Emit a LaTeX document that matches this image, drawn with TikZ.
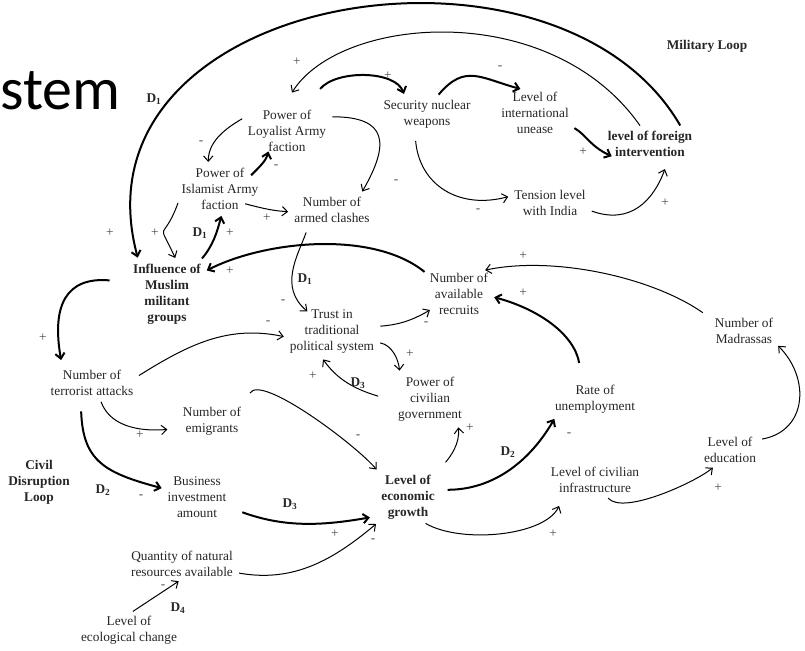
\documentclass[tikz,border=0pt]{standalone}
\usepackage{fontspec}
\setmainfont{Liberation Serif}
\newfontfamily\slidefont{Carlito}
\usetikzlibrary{arrows.meta}
\newcommand{\dsub}[1]{\textbf{D\textsubscript{#1}}}
\tikzset{
  var/.style={align=center,inner sep=1.5pt,font=\fontsize{10}{12}\selectfont,text=black!85},
  varb/.style={var,font=\fontsize{10}{12}\selectfont\bfseries},
  sgn/.style={inner sep=0pt,font=\fontsize{10}{12}\selectfont,text=black!70},
  dlab/.style={inner sep=0pt,font=\fontsize{10}{12}\selectfont,text=black!85},
  lnk/.style={-{Straight Barb[length=4pt,width=7pt]},line width=.75pt,shorten <=3pt,shorten >=3pt},
  hvy/.style={lnk,line width=1.5pt},
}
\begin{document}
\begin{tikzpicture}[x=0.75pt,y=0.75pt]
\useasboundingbox (0,0) rectangle (805,650);
\node[anchor=base west,inner sep=0pt,font=\slidefont\fontsize{45}{54}\selectfont] (ttl) at (0,540) {stem};
% variables
\node[var] (loyal) at (287,519) {Power of\\Loyalist Army\\faction};
\node[var] (islam) at (220,461) {Power of\\Islamist Army\\faction};
\node[var] (clash) at (332,440) {Number of\\armed clashes};
\node[var] (secur) at (427,536) {Security nuclear\\weapons};
\node[var] (unease) at (535,537) {Level of\\international\\unease};
\node[varb] (foreign) at (650,506) {level of foreign\\intervention};
\node[var] (india) at (550,447) {Tension level\\with India};
\node[varb] (influ) at (167,356) {Influence of\\Muslim\\militant\\groups};
\node[var] (terror) at (92,267) {Number of\\terrorist attacks};
\node[var] (trust) at (332,318) {Trust in\\traditional\\political system};
\node[var] (recruit) at (459,356) {Number of\\available\\recruits};
\node[var] (madras) at (744,319) {Number of\\Madrassas};
\node[var] (civgov) at (430,251) {Power of\\civilian\\government};
\node[var] (unemp) at (595,251) {Rate of\\unemployment};
\node[var] (emig) at (212,229) {Number of\\emigrants};
\node[var] (busin) at (197,153) {Business\\investment\\amount};
\node[varb] (econ) at (408,153) {Level of\\economic\\growth};
\node[var] (infra) at (595,170) {Level of civilian\\infrastructure};
\node[var] (educ) at (730,200) {Level of\\education};
\node[var] (natres) at (182,86) {Quantity of natural\\resources available};
\node[var] (ecol) at (129,20) {Level of\\ecological change};
\node[varb] (milit) at (707,604) {Military Loop};
\node[varb] (civil) at (39,168) {Civil\\Disruption\\Loop};
% military loop
\draw[hvy] (foreign.25) .. controls +(120:250) and +(105:280) .. (influ.131);
\draw[lnk] (foreign.117) .. controls +(125:160) and +(58:95) .. ([yshift=9pt]loyal.83);
\draw[hvy] ([yshift=12pt]loyal.37) to[out=50,in=110,looseness=.85] (secur.143);
\draw[hvy] (secur.61) to[out=50,in=165,looseness=1.3] (unease.115);
\draw[hvy,shorten >=-5pt] (unease.-20) to[out=-30,in=155] (foreign.192);
\draw[lnk,shorten <=8pt] (secur.233) to[out=-85,in=195,looseness=1.2] (india.169);
\draw[lnk,shorten >=8pt] (india.-10) to[out=-20,in=250,looseness=1.2] (foreign.-39);
\draw[lnk] (loyal.161) to[out=210,in=90] (islam.117);
\draw[hvy,shorten <=-10pt,shorten >=-2pt] (islam.north east) to[bend right=15] (loyal.230);
\draw[lnk] (loyal.19) to[out=0,in=60,looseness=1.8] (clash.28);
\draw[lnk,shorten <=-12pt] (islam.-25) to[out=-15,in=175] (clash.183);
\draw[lnk] (islam.194) to[out=250,in=115,looseness=2] (influ.73);
\draw[hvy] (influ.45) to[out=50,in=255] (islam.276);
\draw[hvy] (recruit.148) to[out=141,in=27,looseness=.8] (influ.31);
\draw[lnk,shorten <=6pt,shorten >=-4pt] (clash.213) to[out=250,in=140] (trust.140);
% civil disruption loop
\draw[hvy,shorten <=16pt,shorten >=6pt] (influ.162) to[out=175,in=100,looseness=1.5] (terror.153);
\draw[lnk] (terror.7) to[out=32,in=168] (trust.187);
\draw[lnk,shorten >=-2pt] (trust.7) to[out=5,in=210] (recruit.209);
\draw[lnk] (trust.-13) to[out=-10,in=95] (civgov.141);
\draw[lnk,shorten <=14pt] (civgov.185) to[out=162,in=305] (trust.245);
\draw[lnk,shorten <=9pt] (madras.160) to[out=145,in=12,looseness=.8] (recruit.46);
\draw[hvy,shorten <=15pt] (unemp.127) to[out=100,in=-15] (recruit.-4);
\draw[lnk] (educ.20) to[out=10,in=-45,looseness=1.3] (madras.-21);
\draw[lnk,shorten >=10pt] (terror.-63) to[out=-70,in=185] (emig.193);
\draw[hvy,shorten <=10pt] (terror.233) to[out=-88,in=165,looseness=1.3] (busin.166);
\draw[lnk,shorten <=10pt] (emig.north east) to[out=60,in=130,looseness=.6] (econ.north west);
\draw[hvy,shorten <=11pt,shorten >=7pt] (busin.-18) to[out=-20,in=190] (econ.213);
\draw[lnk] (natres.-9) to[out=-10,in=220] (econ.south west);
\draw[lnk] (ecol.88) -- (natres.south);
\draw[lnk,shorten <=10pt] (econ.north east) to[out=50,in=275] (civgov.-41);
\draw[hvy,shorten <=8pt] (econ.14) to[out=0,in=240] (unemp.203);
\draw[lnk,shorten >=9pt] (econ.-60) to[out=-30,in=245,looseness=.8] (infra.206);
\draw[lnk] (infra.-55) to[out=-50,in=220,looseness=.6] (educ.227);
% polarity signs
\foreach \n/\x/\y/\s in {1/110/417/+,2/297/588/+,3/388/574/+,4/500/582/-,5/583/498/+,
  6/478/439/-,7/665/447/+,8/201/507/-,9/276/483/-,10/396/468/-,11/267/432/+,
  12/155/417/+,13/230/417/+,14/230/379/+,15/283/348/-,16/43/312/+,17/268/327/-,
  18/426/326/-,19/410/296/+,20/313/274/+,21/523/394/+,22/523/357/+,24/140/215/+,
  25/141/153/-,26/358/213/-,27/335/116/+,28/373/109/-,29/163/63/-,30/470/222/+,
  31/569/215/-,32/553/116/+,33/718/162/+}
  \node[sgn] (sg\n) at (\x,\y) {\s};
% delays
\foreach \n/\x/\y/\k in {1/154/551/1,2/200/417/1,3/305/371/1,4/358/267/3,
  5/103/160/2,6/290/146/3,7/178/42/4,8/508/198/2}
  \node[dlab] (dl\n) at (\x,\y) {\dsub{\k}};
\end{tikzpicture}
\end{document}
